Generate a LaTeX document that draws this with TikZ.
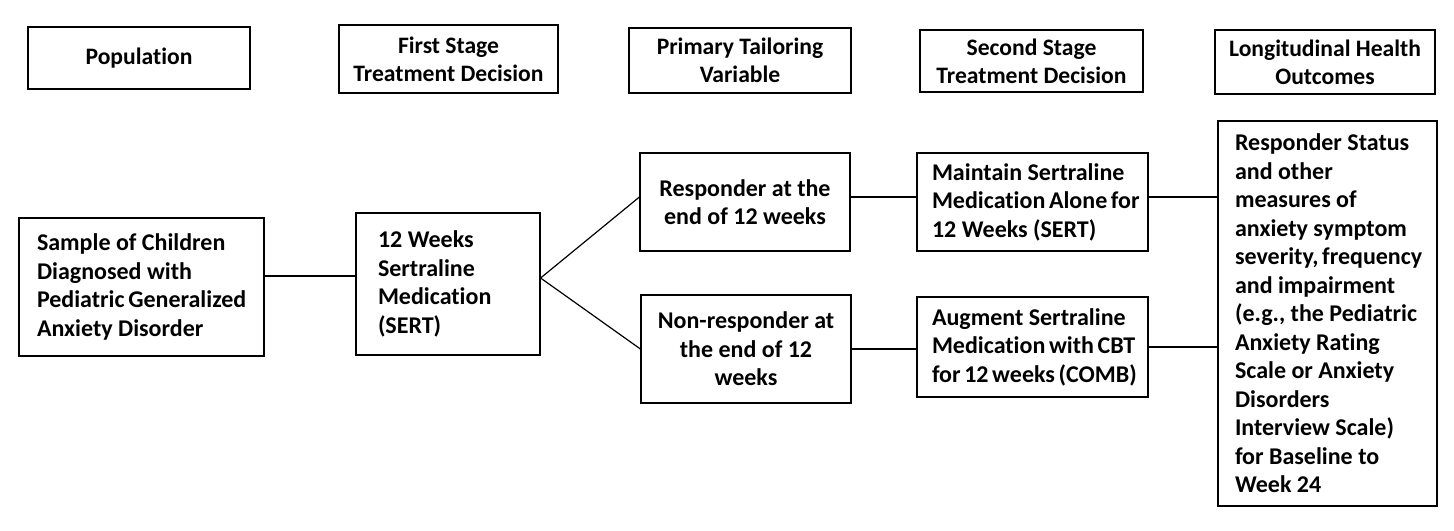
\documentclass[tikz,border=0pt]{standalone}
\usepackage{fontspec}
\setmainfont[Ligatures=NoCommon]{Carlito}
\usepackage{tikz}

\tikzset{
  hdr/.style={draw, line width=0.6pt, align=center, inner sep=2pt,
    font=\fontsize{11.8}{14}\selectfont\bfseries},
  stagebox/.style={draw, line width=0.6pt, inner ysep=2pt,
    font=\fontsize{12}{14.25}\selectfont\bfseries,
    execute at begin node={\hyphenpenalty=10000\exhyphenpenalty=10000\hbadness=10000\hfuzz=20pt}},
  link/.style={line width=0.6pt}
}

\begin{document}
\begin{tikzpicture}[x=0.5pt,y=0.5pt,yscale=-1]
\useasboundingbox (0,0) rectangle (1454,530);

% Header Nodes
\node [hdr, minimum width=111pt, minimum height=31pt] (pop) at (139,58) {Population};
\node [hdr, minimum width=109.5pt, minimum height=34pt] (first) at (448.5,59) {First Stage\\Treatment Decision};
\node [hdr, minimum width=111pt, minimum height=32.5pt] (tailor) at (740,60.5) {Primary Tailoring\\Variable};
\node [hdr, minimum width=111.5pt, minimum height=31pt] (second) at (1031.5,61) {Second Stage\\Treatment Decision};
\node [hdr, minimum width=110pt, minimum height=32pt] (longit) at (1325,62) {Longitudinal Health\\Outcomes};

% Stage Nodes
\node [stagebox, align=flush left, inner xsep=9pt, text width=104.5pt, minimum height=69pt] (sample) at (141.5,287)
  {Sample~of~Children\\Diagnosed~with\\Pediatric~Generalized\\Anxiety~Disorder};
\node [stagebox, align=flush left, inner xsep=11pt, text width=70pt, minimum height=71pt] (weeks) at (448,284)
  {12~Weeks\\Sertraline\\Medication\\(SERT)};
\node [stagebox, align=flush center, inner xsep=3pt, text width=99pt, minimum height=49pt] (resp) at (745,202)
  {Responder~at~the\\end~of~12~weeks};
\node [stagebox, align=flush center, inner xsep=3pt, text width=99pt, minimum height=54pt] (nonresp) at (746,349)
  {Non-responder~at\\the~end~of~12\\weeks};
\node [stagebox, align=flush left, inner xsep=7.5pt, text width=100.5pt, minimum height=49pt] (maintain) at (1032.5,202)
  {Maintain~Sertraline\\Medication~Alone~for\\12~Weeks~(SERT)};
\node [stagebox, align=flush left, inner xsep=7.5pt, text width=100.5pt, minimum height=50pt] (augment) at (1032.5,347)
  {Augment~Sertraline\\Medication~with~CBT\\for~12~weeks~(COMB)};
\node [stagebox, align=flush left, inner xsep=8.5pt, text width=92.5pt, minimum height=192.5pt] (outcome) at (1327.5,313.5)
  {Responder~Status\\and~other\\measures~of\\anxiety~symptom\\severity,~frequency\\and~impairment\\(e.g.,~the~Pediatric\\Anxiety~Rating\\Scale~or~Anxiety\\Disorders\\Interview~Scale)\\for~Baseline~to\\Week~24};

% Join points
\coordinate (fork) at ([yshift=-3pt]weeks.east);
\coordinate (upin) at ([yshift=-2.5pt]resp.west);
\coordinate (upout) at ([yshift=-2.5pt]maintain.east);

%Straight Lines
\draw [link] ([yshift=-5.5pt]sample.east) -- ([yshift=-5.5pt]sample.east -| weeks.west);
\draw [link] (fork) -- (upin);
\draw [link] (fork) -- (nonresp.west);
\draw [link] ([yshift=-2.5pt]resp.east) -- ([yshift=-2.5pt]resp.east -| maintain.west);
\draw [link] (nonresp.east) -- (nonresp.east -| augment.west);
\draw [link] (upout) -- (upout -| outcome.west);
\draw [link] (augment.east) -- (augment.east -| outcome.west);

\end{tikzpicture}
\end{document}
